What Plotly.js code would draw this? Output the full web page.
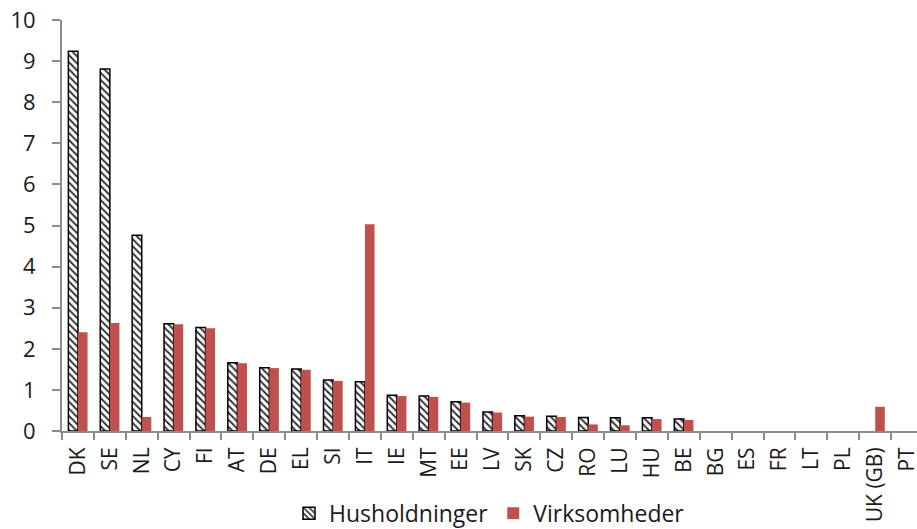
<!DOCTYPE html>
<html>
<head>
<meta charset="utf-8">
<script src="https://cdn.plot.ly/plotly-3.0.1.min.js"></script>
<style>html,body{margin:0;padding:0;background:#fff}#chart{width:917px;height:529px}</style>
</head>
<body>
<div id="chart"></div>
<script>
const countries = ["DK","SE","NL","CY","FI","AT","DE","EL","SI","IT","IE","MT","EE","LV","SK","CZ","RO","LU","HU","BE","BG","ES","FR","LT","PL","UK (GB)","PT"];
const husholdninger = [9.24,8.81,4.76,2.61,2.52,1.66,1.54,1.51,1.24,1.20,0.87,0.85,0.71,0.46,0.37,0.36,0.33,0.32,0.32,0.29,0,0,0,0,0,0,0];
const virksomheder = [2.40,2.63,0.34,2.60,2.50,1.65,1.53,1.49,1.22,5.03,0.85,0.83,0.69,0.45,0.35,0.34,0.16,0.14,0.29,0.27,0,0,0,0,0,0.59,0];
const seriesNames = ["Husholdninger","Virksomheder"];
const yTicks = [0,1,2,3,4,5,6,7,8,9,10];

const FONT = "Open Sans, DejaVu Sans, sans-serif";
const data = [
  {type:"bar", name:seriesNames[0], x:countries, y:husholdninger,
   marker:{color:"#ffffff", line:{color:"#000000", width:husholdninger.map(v => v > 0 ? 1.5 : 0)},
           pattern:{shape:"\\", fgcolor:"#333333", bgcolor:"#ffffff", size:5, solidity:0.4}}},
  {type:"bar", name:seriesNames[1], x:countries, y:virksomheder,
   marker:{color:"#C0504D", line:{width:0}}}
];
const layout = {
  width:917, height:529,
  margin:{l:62, r:0, t:20, b:98, autoexpand:false},
  paper_bgcolor:"#fff", plot_bgcolor:"#fff",
  font:{family:FONT, size:22, color:"#1a1a1a"},
  barmode:"group", bargap:0.4, bargroupgap:0,
  showlegend:true,
  legend:{orientation:"h", x:0.5, xanchor:"center", y:-0.2, yanchor:"middle",
          font:{size:23}, itemwidth:30, traceorder:"normal"},
  xaxis:{type:"category", range:[-0.5, 26.31], tickangle:-90, tickson:"boundaries",
         ticks:"outside", ticklen:7, tickwidth:2, tickcolor:"#8c8c8c",
         showline:true, linecolor:"#8c8c8c", linewidth:2, showgrid:false, zeroline:false,
         tickfont:{size:21}, ticklabelstandoff:6, automargin:false},
  yaxis:{range:[0,10], tickvals:yTicks, ticks:"outside", ticklen:8, tickwidth:2, tickcolor:"#8c8c8c",
         showline:true, linecolor:"#8c8c8c", linewidth:2, showgrid:false, zeroline:false,
         tickfont:{size:22}, ticklabelstandoff:12, automargin:false}
};
Plotly.newPlot("chart", data, layout, {displayModeBar:false, staticPlot:true});
</script>
</body>
</html>
